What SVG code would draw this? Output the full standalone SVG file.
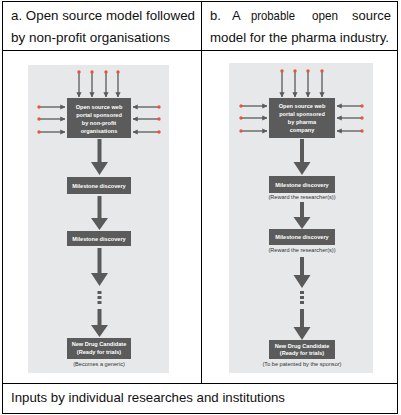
<svg xmlns="http://www.w3.org/2000/svg" width="401" height="415" viewBox="0 0 401 415">
<defs>
<style>
.tbl{fill:none;stroke:#000;stroke-width:1}
.hd{font-family:"Liberation Sans",Arial,sans-serif;font-size:13px;fill:#111}
.panel{fill:#e6e8ea}
.box{fill:#5b5b5b}
.bt{font-family:"Liberation Sans",Arial,sans-serif;font-size:5.6px;fill:#fff;text-anchor:middle;font-weight:bold}
.nt{font-family:"Liberation Sans",Arial,sans-serif;font-size:5.6px;fill:#333;text-anchor:middle}
.thin{stroke:#5a5a5a;stroke-width:1.3;fill:none;marker-end:url(#ah)}
.dot{fill:#e2583e}
.big{fill:#5a5a5a}
</style>
<marker id="ah" viewBox="0 0 6 6" refX="5.5" refY="3" markerWidth="4" markerHeight="4" orient="auto">
<path d="M0,0 L6,3 L0,6 z" fill="#5a5a5a"/>
</marker>
</defs>
<rect width="401" height="415" fill="#fff"/>
<g id="table">
<rect class="tbl" x="2.5" y="1.5" width="395" height="412"/>
<line class="tbl" x1="201.5" y1="1.5" x2="201.5" y2="383.5"/>
<line class="tbl" x1="2.5" y1="50.5" x2="397.5" y2="50.5"/>
<line class="tbl" x1="2.5" y1="383.5" x2="397.5" y2="383.5"/>
<text class="hd" x="11" y="20" textLength="184" lengthAdjust="spacingAndGlyphs">a. Open source model followed</text>
<text class="hd" x="11" y="42" textLength="159" lengthAdjust="spacingAndGlyphs">by non-profit organisations</text>
<text class="hd" x="210" y="20">b.</text>
<text class="hd" x="232" y="20">A</text>
<text class="hd" x="251" y="20" textLength="44" lengthAdjust="spacingAndGlyphs">probable</text>
<text class="hd" x="312" y="20" textLength="26" lengthAdjust="spacingAndGlyphs">open</text>
<text class="hd" x="352" y="20" textLength="39" lengthAdjust="spacingAndGlyphs">source</text>
<text class="hd" x="210" y="42" textLength="179" lengthAdjust="spacingAndGlyphs">model for the pharma industry.</text>
<text class="hd" x="11" y="402" textLength="274" lengthAdjust="spacingAndGlyphs">Inputs by individual researches and institutions</text>
</g>
<g id="panelA">
<rect class="panel" x="28" y="65" width="141" height="308"/>
</g>
<g id="panelB">
<rect class="panel" x="229" y="63" width="144" height="310"/>
</g>
<g id="connectors">
<line class="thin" x1="79" y1="72" x2="79" y2="97"/>
<line class="thin" x1="92" y1="72" x2="92" y2="97"/>
<line class="thin" x1="106" y1="72" x2="106" y2="97"/>
<line class="thin" x1="118" y1="72" x2="118" y2="97"/>
<line class="thin" x1="40" y1="107" x2="65" y2="107"/>
<line class="thin" x1="40" y1="119" x2="65" y2="119"/>
<line class="thin" x1="40" y1="132" x2="65" y2="132"/>
<line class="thin" x1="158" y1="107" x2="133" y2="107"/>
<line class="thin" x1="158" y1="119" x2="133" y2="119"/>
<line class="thin" x1="158" y1="132" x2="133" y2="132"/>
<circle class="dot" cx="79" cy="72" r="1.7"/>
<circle class="dot" cx="92" cy="72" r="1.7"/>
<circle class="dot" cx="106" cy="72" r="1.7"/>
<circle class="dot" cx="118" cy="72" r="1.7"/>
<circle class="dot" cx="39" cy="107" r="1.7"/>
<circle class="dot" cx="39" cy="119" r="1.7"/>
<circle class="dot" cx="39" cy="132" r="1.7"/>
<circle class="dot" cx="159" cy="107" r="1.7"/>
<circle class="dot" cx="159" cy="119" r="1.7"/>
<circle class="dot" cx="159" cy="132" r="1.7"/>
<path class="big" d="M97.5,139 h4 v23 h6.5 l-8.5,13 l-8.5,-13 h6.5 z"/>
<path class="big" d="M97.5,196 h4 v22 h6.5 l-8.5,12 l-8.5,-12 h6.5 z"/>
<path class="big" d="M97.5,248 h4 v25 h6.5 l-8.5,13 l-8.5,-13 h6.5 z"/>
<rect class="big" x="97.5" y="291" width="4" height="3"/>
<rect class="big" x="97.5" y="296" width="4" height="3"/>
<rect class="big" x="97.5" y="301" width="4" height="3"/>
<path class="big" d="M97.5,309 h4 v16 h6.5 l-8.5,12 l-8.5,-12 h6.5 z"/>
<line class="thin" x1="282" y1="71" x2="282" y2="97"/>
<line class="thin" x1="295" y1="71" x2="295" y2="97"/>
<line class="thin" x1="308" y1="71" x2="308" y2="97"/>
<line class="thin" x1="322" y1="71" x2="322" y2="97"/>
<line class="thin" x1="242" y1="106" x2="267" y2="106"/>
<line class="thin" x1="242" y1="118" x2="267" y2="118"/>
<line class="thin" x1="242" y1="131" x2="267" y2="131"/>
<line class="thin" x1="361" y1="106" x2="337" y2="106"/>
<line class="thin" x1="361" y1="118" x2="337" y2="118"/>
<line class="thin" x1="361" y1="131" x2="337" y2="131"/>
<circle class="dot" cx="282" cy="71" r="1.7"/>
<circle class="dot" cx="295" cy="71" r="1.7"/>
<circle class="dot" cx="308" cy="71" r="1.7"/>
<circle class="dot" cx="322" cy="71" r="1.7"/>
<circle class="dot" cx="241" cy="106" r="1.7"/>
<circle class="dot" cx="241" cy="118" r="1.7"/>
<circle class="dot" cx="241" cy="131" r="1.7"/>
<circle class="dot" cx="362" cy="106" r="1.7"/>
<circle class="dot" cx="362" cy="118" r="1.7"/>
<circle class="dot" cx="362" cy="131" r="1.7"/>
<path class="big" d="M300,139 h4 v23 h6.5 l-8.5,13 l-8.5,-13 h6.5 z"/>
<path class="big" d="M300,202 h4 v15 h6.5 l-8.5,12 l-8.5,-12 h6.5 z"/>
<path class="big" d="M300,257 h4 v18 h6.5 l-8.5,13 l-8.5,-13 h6.5 z"/>
<rect class="big" x="300" y="291" width="4" height="3"/>
<rect class="big" x="300" y="296" width="4" height="3"/>
<rect class="big" x="300" y="301" width="4" height="3"/>
<path class="big" d="M300,309 h4 v18 h6.5 l-8.5,13 l-8.5,-13 h6.5 z"/>
</g>
<g id="a-portal">
<rect class="box" x="67" y="98" width="64" height="40"/>
<text class="bt" x="99" y="109">Open source web</text>
<text class="bt" x="99" y="117">portal sponsored</text>
<text class="bt" x="99" y="125">by non-profit</text>
<text class="bt" x="99" y="133">organisations</text>
</g>
<g id="a-milestone1">
<rect class="box" x="67" y="177" width="64" height="17"/>
<text class="bt" x="99" y="187.5">Milestone discovery</text>
</g>
<g id="a-milestone2">
<rect class="box" x="67" y="231" width="64" height="15"/>
<text class="bt" x="99" y="240.5">Milestone discovery</text>
</g>
<g id="a-candidate">
<rect class="box" x="67" y="338" width="64" height="21"/>
<text class="bt" x="99" y="346">New Drug Candidate</text>
<text class="bt" x="99" y="354">(Ready for trials)</text>
<text class="nt" x="99" y="366">(Becomes a generic)</text>
</g>
<g id="b-portal">
<rect class="box" x="269" y="98" width="66" height="40"/>
<text class="bt" x="302" y="108">Open source web</text>
<text class="bt" x="302" y="116">portal sponsored</text>
<text class="bt" x="302" y="124">by pharma</text>
<text class="bt" x="302" y="132">company</text>
</g>
<g id="b-milestone1">
<rect class="box" x="269" y="176" width="66" height="17"/>
<text class="bt" x="302" y="186.5">Milestone discovery</text>
<text class="nt" x="302" y="199">(Reward the researcher(s))</text>
</g>
<g id="b-milestone2">
<rect class="box" x="269" y="229" width="66" height="16"/>
<text class="bt" x="302" y="239">Milestone discovery</text>
<text class="nt" x="302" y="252">(Reward the researcher(s))</text>
</g>
<g id="b-candidate">
<rect class="box" x="269" y="340" width="66" height="19"/>
<text class="bt" x="302" y="347.5">New Drug Candidate</text>
<text class="bt" x="302" y="355">(Ready for trials)</text>
<text class="nt" x="302" y="366">(To be patented by the sponsor)</text>
</g>
</svg>
